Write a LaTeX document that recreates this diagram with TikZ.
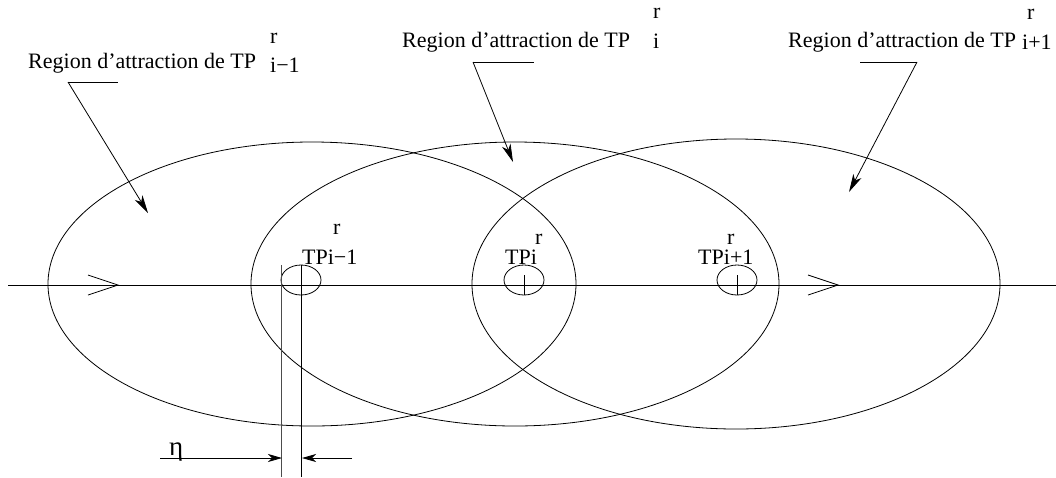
\documentclass[tikz,border=0pt]{standalone}
\usepackage{fontspec}
\setmainfont{Liberation Serif}
\usepackage{tikz}
\usetikzlibrary{arrows.meta,shapes.geometric}
\tikzset{
  ln/.style={line width=0.8pt,black},
  zone/.style={ellipse,draw,line width=0.8pt,inner sep=0pt},
  ar/.style={-{Stealth[length=18pt,width=9pt,inset=5pt]},line width=0.8pt},
  dimar/.style={-{Stealth[length=14pt,width=8pt,inset=4pt]},line width=0.8pt},
  tx/.style={font=\fontsize{22}{26}\selectfont,inner sep=0pt,anchor=base west}
}
\begin{document}
\begin{tikzpicture}[x=1pt,y=-1pt]
\useasboundingbox (0,0) rectangle (1056,477);
\foreach \n/\cx/\h in {1/312/284,2/515/284,3/736/290}{\node[zone,minimum width=528pt,minimum height=\h pt] (z\n) at (\cx,284) {};}
\foreach \n/\cx in {1/301,2/524,3/737}{\node[zone,minimum width=40pt,minimum height=30pt] (p\n) at (\cx,280) {};}
\coordinate (a0) at (8,285);
\coordinate (a1) at (1056,285);
\draw[ln] (a0) -- (a1);
\foreach \x in {118,838}{\draw[ln] (\x-30,275) -- (\x,285) -- (\x-30,295);}
\foreach \n in {2,3}{\draw[ln] (p\n.center) ++(0,-5) -- ++(0,20);}
\draw[line width=0.7pt,black!70] (281,265) -- (281,477);
\draw[ln] (301,265) -- (301,477);
\coordinate (e1) at (282,458);
\coordinate (e2) at (302,458);
\draw[dimar] (160,458) -- (e1);
\draw[dimar] (352,458) -- (e2);
\node[tx,font=\fontsize{27}{30}\selectfont] (eta) at (169,455) {η};
\node[tx] (l1) at (28,68) {Region d’attraction de TP};
\node[tx] (l1r) at (270,43) {r};
\node[tx] (l1i) at (270,72) {i−1};
\node[tx] (l2) at (402,47) {Region d’attraction de TP};
\node[tx] (l2r) at (653,18) {r};
\node[tx] (l2i) at (653,48) {i};
\node[tx] (l3) at (788,47) {Region d’attraction de TP};
\node[tx] (l3r) at (1027,19) {r};
\node[tx] (l3i) at (1022,49) {i+1};
\node[tx] (n1) at (302,264) {TPi−1};
\node[tx] (n1r) at (333,234) {r};
\node[tx] (n2) at (505,264) {TPi};
\node[tx] (n2r) at (535,244) {r};
\node[tx] (n3) at (698,264) {TPi+1};
\node[tx] (n3r) at (727,244) {r};
\foreach \n/\kx/\ky/\hx/\px/\py in {1/68/82/118/148/213,2/473/62/534/513/162,3/917/62/860/849/192}{
  \coordinate (k\n) at (\kx,\ky);
  \coordinate (t\n) at (\px,\py);
  \draw[ln] (k\n) -- (\hx,\ky);
  \draw[ar] (k\n) -- (t\n);
}
\end{tikzpicture}
\end{document}
